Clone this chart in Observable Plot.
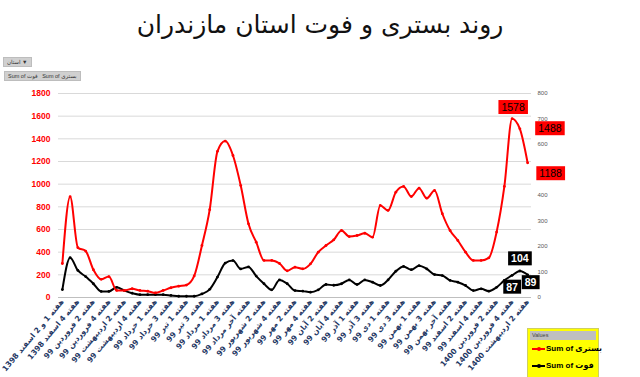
<!DOCTYPE html>
<html>
<head>
<meta charset="utf-8">
<script src="https://cdn.jsdelivr.net/npm/d3@7"></script>
<script src="https://cdn.jsdelivr.net/npm/@observablehq/plot@0.6"></script>
<style>
  html, body { margin: 0; padding: 0; background: #fff; width: 640px; height: 377px; overflow: hidden; position: relative; font-family: "DejaVu Sans", sans-serif; }
  #title { position: absolute; left: 0; top: 4px; width: 640px; text-align: center; font-size: 25px; line-height: 42px; color: #111; }
  .btn { position: absolute; background: #d0d0d0; border: 1px solid #bdbdbd; font-size: 5.5px; color: #333; line-height: 8px; padding: 0 3px; white-space: nowrap; font-family: "Liberation Sans", "DejaVu Sans", sans-serif; }
  #chart { position: absolute; left: 0; top: 80px; }
  #legend { position: absolute; left: 527px; top: 328px; width: 70px; height: 52px; background: #ffff00; border: 1px solid #cfcf60; font-family: "Liberation Sans", "DejaVu Sans", sans-serif; }
  #legend .hdr { background: #bfbfbf; font-size: 5.5px; color: #444; height: 9px; line-height: 9px; padding-left: 2px; margin: 2px 2px 0 2px; }
  #legend .row { position: relative; height: 17px; }
  #legend .ln { position: absolute; left: 4px; top: 8px; width: 13px; height: 2px; }
  #legend .mk { position: absolute; left: 9px; top: 7px; width: 4px; height: 4px; border-radius: 2px; }
  #legend .tx { position: absolute; left: 18px; top: 2px; font-size: 8px; font-weight: bold; color: #000; white-space: nowrap; line-height: 13px; }
</style>
</head>
<body>
<div id="title">روند بستری و فوت استان مازندران</div>
<div class="btn" style="left:3px; top:57px;">استان ▼</div>
<div class="btn" style="left:4px; top:71px;">Sum of فوت &nbsp; Sum of بستری</div>
<div id="chart"></div>
<div id="legend">
  <div class="hdr">Values</div>
  <div class="row"><div class="ln" style="background:#ff0000"></div><div class="mk" style="background:#ff0000"></div><div class="tx">Sum of بستری</div></div>
  <div class="row"><div class="ln" style="background:#000"></div><div class="mk" style="background:#000"></div><div class="tx">Sum of فوت</div></div>
</div>
<script>
// Tick labels (every second week)
const tickLabels = [
  "هفته 1 و 2 اسفند 1398", "هفته 4 اسفند 1398", "هفته 2 فروردین 99", "هفته 4 فروردین 99",
  "هفته 2 اردیبهشت 99", "هفته 4 اردیبهشت 99", "هفته 1 خرداد 99", "هفته 3 خرداد 99",
  "هفته 1 تیر 99", "هفته 3 تیر 99", "هفته 1 مرداد 99", "هفته 3 مرداد 99",
  "هفته آخر مرداد 99", "هفته 2 شهریور 99", "هفته 4 شهریور 99", "هفته 2 مهر 99",
  "هفته 4 مهر 99", "هفته 2 آبان 99", "هفته 4 آبان 99", "هفته 1 آذر 99",
  "هفته 3 آذر 99", "هفته 1 دی 99", "هفته 3 دی 99", "هفته 1 بهمن 99",
  "هفته 3 بهمن 99", "هفته آخر بهمن 99", "هفته 2 اسفند 99", "هفته 4 اسفند 99",
  "هفته 2 فروردین 1400", "هفته 4 فروردین 1400", "هفته 2 اردیبهشت 1400"
];

// Sum of بستری (hospitalised) – left axis
const admitted = [
  300, 890, 440, 410, 245, 160, 185, 62, 62, 77,
  62, 56, 41, 62, 86, 100, 110, 190, 459, 775,
  1290, 1380, 1253, 988, 650, 488, 327, 327, 300, 235,
  268, 253, 297, 400, 459, 509, 591, 538, 547, 567,
  532, 812, 768, 929, 980, 891, 965, 876, 944, 739,
  591, 503, 400, 327, 327, 350, 577, 980, 1578, 1488,
  1188
];

// Sum of فوت (deaths) – right axis
const deaths = [
  31, 156, 106, 82, 54, 24, 24, 40, 27, 17,
  11, 11, 11, 11, 8, 5, 5, 5, 14, 32,
  80, 135, 145, 112, 120, 84, 54, 30, 69, 54,
  27, 25, 21, 30, 51, 48, 54, 69, 51, 69,
  60, 47, 69, 103, 122, 109, 125, 112, 90, 86,
  67, 60, 47, 27, 34, 25, 40, 67, 87, 104,
  89
];

const leftTicks = [0, 200, 400, 600, 800, 1000, 1200, 1400, 1600, 1800];
const rightTicks = [0, 100, 200, 300, 400, 500, 600, 700, 800];

const leftMax = 1800, rightMax = 800;
const k = leftMax / rightMax;

const redRows = admitted.map((v, i) => ({i, v, y: v}));
const blackRows = deaths.map((v, i) => ({i, v, y: v * k}));
const n = admitted.length;

function lbl(rows, idx, fill, dx, dy, name, weight) {
  return Plot.text([rows[idx]], {
    x: "i", y: "y", text: d => String(d.v),
    dx, dy, fill, fontSize: 10.5, fontWeight: weight,
    fontFamily: "Liberation Sans, DejaVu Sans, sans-serif",
    ariaDescription: name
  });
}

const plot = Plot.plot({
  width: 640,
  height: 297,
  marginLeft: 58,
  marginRight: 109,
  marginTop: 13,
  marginBottom: 80,
  style: { background: "transparent", overflow: "visible" },
  x: { type: "linear", domain: [-0.5, n - 0.5] },
  y: { domain: [0, leftMax] },
  marks: [
    Plot.gridY(leftTicks, { stroke: "#d9d9d9", strokeOpacity: 1 }),
    Plot.ruleY([0], { stroke: "#bfbfbf" }),
    Plot.axisY({
      anchor: "left", ticks: leftTicks, tickSize: 0, tickPadding: 8,
      tickFormat: d => String(d),
      fill: "#ff0000", fontSize: 8.5, fontWeight: "bold",
      fontFamily: "Liberation Sans, DejaVu Sans, sans-serif", label: null
    }),
    Plot.axisY({
      anchor: "right", ticks: rightTicks.map(t => t * k), tickSize: 0, tickPadding: 6,
      tickFormat: d => String(Math.round(d / k)), fill: "#595959", fontSize: 6,
      fontFamily: "Liberation Sans, DejaVu Sans, sans-serif", label: null
    }),
    Plot.axisX({
      ticks: d3.range(0, n, 2), tickSize: 0, tickPadding: 3, tickRotate: -50,
      tickFormat: i => tickLabels[i / 2], fill: "#1f3864", fontSize: 7.6, fontWeight: "bold",
      fontFamily: "DejaVu Sans, sans-serif", label: null
    }),
    Plot.line(blackRows, { x: "i", y: "y", stroke: "#000", strokeWidth: 2, curve: "monotone-x" }),
    Plot.dot(blackRows, { x: "i", y: "y", r: 1.4, fill: "#000" }),
    Plot.line(redRows, { x: "i", y: "y", stroke: "#ff0000", strokeWidth: 2, curve: "monotone-x" }),
    Plot.dot(redRows, { x: "i", y: "y", r: 1.4, fill: "#ff0000" }),
    lbl(redRows, n - 3, "#000", 1, -11, "lbl-red", "normal"),
    lbl(redRows, n - 2, "#000", 30, 0, "lbl-red", "normal"),
    lbl(redRows, n - 1, "#000", 23, 11, "lbl-red", "normal"),
    lbl(blackRows, n - 2, "#fff", 0, -12, "lbl-black", "bold"),
    lbl(blackRows, n - 3, "#fff", 0, 12, "lbl-black", "bold"),
    lbl(blackRows, n - 1, "#fff", 3, 8, "lbl-black", "bold")
  ]
});
document.getElementById("chart").appendChild(plot);

// Boxes behind the data labels
function boxes(name, color) {
  plot.querySelectorAll(`g[aria-description="${name}"] text`).forEach(t => {
    const b = t.getBBox();
    const r = document.createElementNS("http://www.w3.org/2000/svg", "rect");
    r.setAttribute("x", b.x - 3);
    r.setAttribute("y", b.y - 1);
    r.setAttribute("width", b.width + 6);
    r.setAttribute("height", b.height + 2);
    r.setAttribute("fill", color);
    if (t.getAttribute("transform")) r.setAttribute("transform", t.getAttribute("transform"));
    t.parentNode.insertBefore(r, t);
  });
}
boxes("lbl-red", "#ff0000");
boxes("lbl-black", "#000");
</script>
</body>
</html>
